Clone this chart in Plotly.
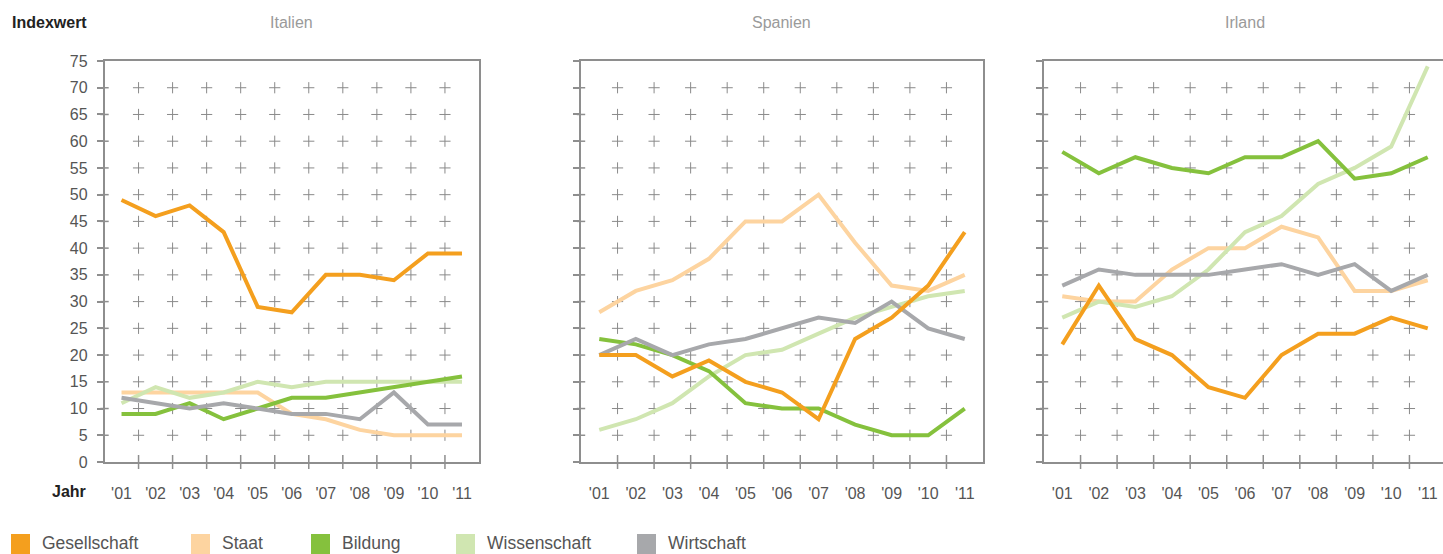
import plotly.graph_objects as go

# ---------------- data ----------------
years = ["'01", "'02", "'03", "'04", "'05", "'06", "'07", "'08", "'09", "'10", "'11"]
countries = ["Italien", "Spanien", "Irland"]
series_names = ["Gesellschaft", "Staat", "Bildung", "Wissenschaft", "Wirtschaft"]
y_ticks = [0, 5, 10, 15, 20, 25, 30, 35, 40, 45, 50, 55, 60, 65, 70, 75]

italien_gesellschaft = [49, 46, 48, 43, 29, 28, 35, 35, 34, 39, 39]
italien_staat = [13, 13, 13, 13, 13, 9, 8, 6, 5, 5, 5]
italien_bildung = [9, 9, 11, 8, 10, 12, 12, 13, 14, 15, 16]
italien_wissenschaft = [11, 14, 12, 13, 15, 14, 15, 15, 15, 15, 15]
italien_wirtschaft = [12, 11, 10, 11, 10, 9, 9, 8, 13, 7, 7]

spanien_gesellschaft = [20, 20, 16, 19, 15, 13, 8, 23, 27, 33, 43]
spanien_staat = [28, 32, 34, 38, 45, 45, 50, 41, 33, 32, 35]
spanien_bildung = [23, 22, 20, 17, 11, 10, 10, 7, 5, 5, 10]
spanien_wissenschaft = [6, 8, 11, 16, 20, 21, 24, 27, 29, 31, 32]
spanien_wirtschaft = [20, 23, 20, 22, 23, 25, 27, 26, 30, 25, 23]

irland_gesellschaft = [22, 33, 23, 20, 14, 12, 20, 24, 24, 27, 25]
irland_staat = [31, 30, 30, 36, 40, 40, 44, 42, 32, 32, 34]
irland_bildung = [58, 54, 57, 55, 54, 57, 57, 60, 53, 54, 57]
irland_wissenschaft = [27, 30, 29, 31, 36, 43, 46, 52, 55, 59, 74]
irland_wirtschaft = [33, 36, 35, 35, 35, 36, 37, 35, 37, 32, 35]

data = {
    "Italien": {"Gesellschaft": italien_gesellschaft, "Staat": italien_staat, "Bildung": italien_bildung,
                "Wissenschaft": italien_wissenschaft, "Wirtschaft": italien_wirtschaft},
    "Spanien": {"Gesellschaft": spanien_gesellschaft, "Staat": spanien_staat, "Bildung": spanien_bildung,
                "Wissenschaft": spanien_wissenschaft, "Wirtschaft": spanien_wirtschaft},
    "Irland": {"Gesellschaft": irland_gesellschaft, "Staat": irland_staat, "Bildung": irland_bildung,
               "Wissenschaft": irland_wissenschaft, "Wirtschaft": irland_wirtschaft},
}

# ---------------- styling ----------------
W, H = 1443, 554
colors = {"Gesellschaft": "#F49F1E", "Staat": "#FDD4A0", "Bildung": "#85C13D",
          "Wissenschaft": "#D0E6B1", "Wirtschaft": "#A7A8AB"}
draw_order = ["Staat", "Wissenschaft", "Bildung", "Wirtschaft", "Gesellschaft"]
frame = "#8E8E8E"
FONT = "Liberation Sans"

def px(x):
    return x / W

def py(y):
    return 1 - y / H

panel_px = [(104.5, 479.0), (581.0, 983.0), (1044.0, 1446.0)]
top_px, bottom_px = 61.0, 462.0

fig = go.Figure()
layout = dict(
    width=W, height=H, margin=dict(l=0, r=0, t=0, b=0, pad=0), autosize=False,
    paper_bgcolor="white", plot_bgcolor="white", showlegend=False,
    font=dict(family=FONT, color="#555555", size=16),
    hovermode=False,
)

annotations = []
shapes = []
n = len(years)
xs = list(range(n))
bounds = [i + 0.5 for i in range(n - 1)]
inner_y = y_ticks[1:-1]

for i, c in enumerate(countries):
    l, r = panel_px[i]
    unit = (r - l) / n
    x0 = px(l)
    x1 = min(px(r), 1.0)
    xmax = -0.5 + (min(r, W) - l) / unit
    sfx = "" if i == 0 else str(i + 1)
    xa = "x" + sfx
    ya = "y" + sfx
    layout["xaxis" + sfx] = dict(
        domain=[x0, x1], range=[-0.5, xmax], anchor=ya, automargin=False,
        tickvals=xs, ticktext=years, ticks="", showgrid=False, zeroline=False,
        showline=True, linecolor=frame, linewidth=1.5, mirror=True,
        tickfont=dict(size=16, color="#555555", family=FONT), ticklabelstandoff=16,
        fixedrange=True,
    )
    layout["yaxis" + sfx] = dict(
        domain=[py(bottom_px), py(top_px)], range=[0, 75], anchor=xa, automargin=False,
        tickvals=y_ticks, ticks="outside", ticklen=6, tickcolor=frame, tickwidth=1.5,
        showticklabels=(i == 0), showgrid=False, zeroline=False,
        showline=True, linecolor=frame, linewidth=1.5, mirror=(i < 2),
        tickfont=dict(size=16, color="#555555", family=FONT), ticklabelstandoff=6,
        fixedrange=True,
    )
    # plus-sign grid at category boundaries
    gx = [b for b in bounds for _ in inner_y]
    gy = [v for _ in bounds for v in inner_y]
    fig.add_trace(go.Scatter(x=gx, y=gy, mode="markers", xaxis=xa, yaxis=ya,
                             marker=dict(symbol="cross-thin", size=8, line=dict(color="#8A8A8A", width=1)),
                             hoverinfo="skip"))
    # boundary ticks crossing the bottom axis
    fig.add_trace(go.Scatter(x=bounds, y=[0] * len(bounds), mode="markers", xaxis=xa, yaxis=ya,
                             marker=dict(symbol="line-ns", size=10, line=dict(color=frame, width=1.5)),
                             cliponaxis=False, hoverinfo="skip"))
    # inner part of y ticks
    fig.add_trace(go.Scatter(x=[-0.5] * len(inner_y), y=inner_y, mode="markers", xaxis=xa, yaxis=ya,
                             marker=dict(symbol="line-ew", size=6, line=dict(color=frame, width=1.5)),
                             cliponaxis=False, hoverinfo="skip"))
    for s in draw_order:
        fig.add_trace(go.Scatter(x=xs, y=data[c][s], mode="lines", name=s, xaxis=xa, yaxis=ya,
                                 line=dict(color=colors[s], width=4), cliponaxis=False, hoverinfo="skip"))
    annotations.append(dict(xref="paper", yref="paper", x=px((l + min(r, 1446)) / 2), y=py(22),
                            text=c, showarrow=False, xanchor="center", yanchor="middle",
                            font=dict(size=16, color="#9A9A9A", family=FONT)))

annotations.append(dict(xref="paper", yref="paper", x=px(10), y=py(22), text="<b>Indexwert</b>",
                        showarrow=False, xanchor="left", yanchor="middle",
                        font=dict(size=16, color="#222222", family=FONT)))
annotations.append(dict(xref="paper", yref="paper", x=px(88), y=py(491), text="<b>Jahr</b>",
                        showarrow=False, xanchor="right", yanchor="middle",
                        font=dict(size=16, color="#222222", family=FONT)))

# manual legend
legend_x = [11, 191, 311, 456, 637]
for s, lx in zip(series_names, legend_x):
    shapes.append(dict(type="rect", xref="paper", yref="paper", x0=px(lx), x1=px(lx + 19),
                       y0=py(534), y1=py(560), fillcolor=colors[s], line=dict(width=0)))
    annotations.append(dict(xref="paper", yref="paper", x=px(lx + 29), y=py(543), text=s,
                            showarrow=False, xanchor="left", yanchor="middle",
                            font=dict(size=17.5, color="#555555", family=FONT)))

layout["annotations"] = annotations
layout["shapes"] = shapes
fig.update_layout(**layout)
fig.write_html(
    "out.html",
    config={"displayModeBar": False},
    post_script=(
        "document.body.style.margin='0';document.body.style.overflow='hidden';"
        "document.documentElement.style.overflow='hidden';"
    ),
)
